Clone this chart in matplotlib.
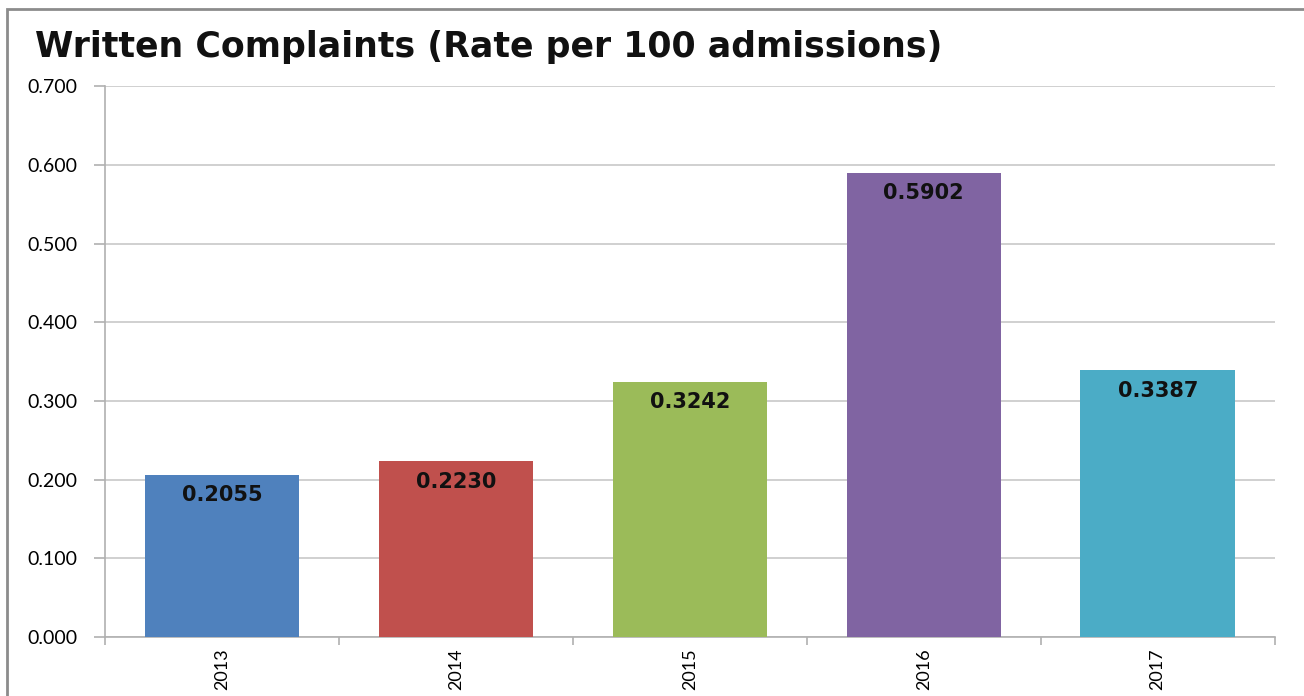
import numpy as np
import matplotlib.pyplot as plt
from matplotlib.patches import Rectangle

# data
years = ["2013", "2014", "2015", "2016", "2017"]
rates = [0.2055, 0.2230, 0.3242, 0.5902, 0.3387]
bar_colors = ["#4f81bd", "#c0504d", "#9bbb59", "#8064a2", "#4bacc6"]
yticks = [0.0, 0.1, 0.2, 0.3, 0.4, 0.5, 0.6, 0.7]

plt.rcParams['font.family'] = ['Lato', 'DejaVu Sans']

fig = plt.figure(figsize=(13.04, 6.96), dpi=100)
ax = fig.add_axes([0.0805, 0.085, 0.897, 0.791])

x = np.arange(len(years))
ax.bar(x, rates, width=0.66, color=bar_colors, zorder=3)

# value labels inside the top of each bar
for xi, v in zip(x, rates):
    ax.text(xi, v - 0.013, "%.4f" % v, ha="center", va="top",
            fontsize=15, fontweight="bold", color="#111111", zorder=4,
            family="DejaVu Sans")

ax.set_xlim(-0.5, len(years) - 0.5)
ax.set_ylim(0, 0.7)
ax.set_yticks(yticks)
ax.set_yticklabels(["%.3f" % t for t in yticks], fontsize=14)
ax.yaxis.grid(True, color="#c8c8c8", linewidth=1.2, zorder=0)

# category labels rotated, tick marks sit between categories
ax.set_xticks(x)
ax.set_xticklabels(years, rotation=90, fontsize=13)
ax.tick_params(axis="x", length=0, pad=8)
ax.set_xticks(np.arange(-0.5, len(years)), minor=True)
ax.tick_params(axis="x", which="minor", length=6, color="#b0b0b0", width=1.2)
ax.tick_params(axis="y", length=8, color="#b0b0b0", width=1.2, pad=12)

for s in ["top", "right"]:
    ax.spines[s].set_visible(False)
for s in ["left", "bottom"]:
    ax.spines[s].set_color("#b0b0b0")
    ax.spines[s].set_linewidth(1.2)

fig.text(0.027, 0.932, "Written Complaints (Rate per 100 admissions)",
         fontsize=25, fontweight="bold", color="#111111", va="center",
         family="DejaVu Sans")

# outer chart frame
fig.patches.append(Rectangle((0.005, -0.01), 1.0, 0.997, transform=fig.transFigure,
                             fill=False, edgecolor="#8c8c8c", linewidth=2))

fig.savefig("out.png", dpi=100)
